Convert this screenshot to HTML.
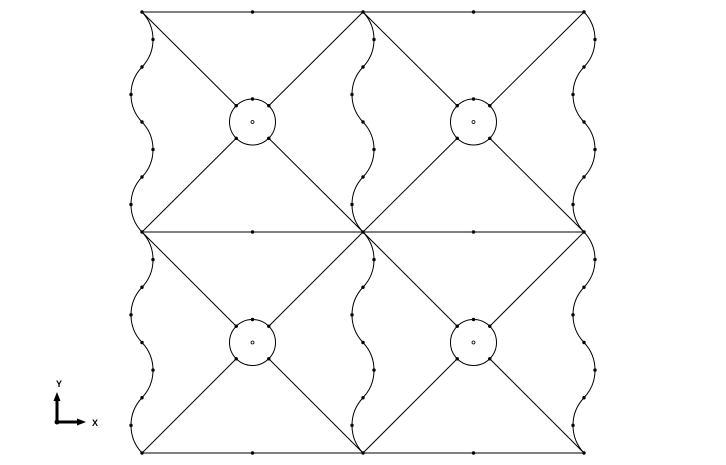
<!DOCTYPE html>
<html><head><meta charset="utf-8"><style>
html,body{margin:0;padding:0;background:#fff;}
svg{display:block;}
</style></head><body>
<svg id="chart" width="726" height="465" viewBox="0 0 726 465" xmlns="http://www.w3.org/2000/svg">
<g id="mesh" stroke="#000" fill="none" stroke-width="1"></g>
<g id="nodes"></g>
<g>
  <line x1="57" y1="422" x2="57" y2="399" stroke="#000" stroke-width="3"/>
  <polygon points="57,392 53.5,401 60.5,401" fill="#000"/>
  <line x1="57" y1="422" x2="80" y2="422" stroke="#000" stroke-width="3"/>
  <polygon points="86,422 77,418.5 77,425.5" fill="#000"/>
  <circle cx="57" cy="422" r="2.5" fill="#000"/>
  <text x="56" y="387" font-family="Liberation Sans, sans-serif" font-size="9" font-weight="bold">Y</text>
  <text x="92" y="426" font-family="Liberation Sans, sans-serif" font-size="9" font-weight="bold">X</text>
</g>
</svg>
<script>
const colEdges = [142, 363, 584];
const rowEdges = [12, 232, 453];
const circleRadius = [23];
const waveAmplitude = [11];
const wavePeriods = [2];

const NS = 'http://www.w3.org/2000/svg';
const mesh = document.getElementById('mesh');
const nodes = document.getElementById('nodes');
function mk(tag, attrs, parent) {
  const e = document.createElementNS(NS, tag);
  for (const k in attrs) e.setAttribute(k, attrs[k]);
  parent.appendChild(e);
  return e;
}
function dot(x, y, hollow) {
  const c = mk('circle', {cx: x, cy: y, r: hollow ? 1.5 : 1.7, fill: hollow ? '#fff' : '#000', stroke: '#000', 'stroke-width': hollow ? 0.8 : 0}, nodes);
  
  
}
const A = waveAmplitude[0], R = circleRadius[0], P = wavePeriods[0];

// horizontal edges
rowEdges.forEach(y => {
  const l = mk('line', {x1: colEdges[0], y1: y, x2: colEdges[colEdges.length-1], y2: y}, mesh);
  
  
  for (let i = 0; i < colEdges.length; i++) {
    dot(colEdges[i], y);
    if (i < colEdges.length - 1) dot((colEdges[i] + colEdges[i+1]) / 2, y);
  }
});

// wavy vertical edges: circular arcs alternating right/left
colEdges.forEach(x => {
  for (let j = 0; j < rowEdges.length - 1; j++) {
    const y0 = rowEdges[j], y1 = rowEdges[j+1], h = y1 - y0;
    const n = 2 * P, seg = h / n;
    const rad = ((seg / 2) * (seg / 2) + A * A) / (2 * A);
    let d = 'M' + x + ',' + y0;
    for (let k = 0; k < n; k++) {
      const ye = y0 + seg * (k + 1);
      const sweep = k % 2 === 0 ? 1 : 0;
      d += ' A' + rad.toFixed(2) + ',' + rad.toFixed(2) + ' 0 0 ' + sweep + ' ' + x + ',' + ye.toFixed(2);
      const ym = y0 + seg * (k + 0.5);
      dot(x + (k % 2 === 0 ? A : -A), ym);
      if (k < n - 1) dot(x, ye);
    }
    const pth = mk('path', {d: d}, mesh);
    
    
  }
});

// cells: circles + diagonals
for (let i = 0; i < colEdges.length - 1; i++) {
  for (let j = 0; j < rowEdges.length - 1; j++) {
    const xa = colEdges[i], xb = colEdges[i+1], ya = rowEdges[j], yb = rowEdges[j+1];
    const cx = (xa + xb) / 2, cy = (ya + yb) / 2;
    const c = mk('circle', {cx: cx, cy: cy, r: R}, mesh);
    
    
    const d = R / Math.SQRT2;
    [[xa, ya, -1, -1], [xb, ya, 1, -1], [xa, yb, -1, 1], [xb, yb, 1, 1]].forEach(([px, py, sx, sy]) => {
      const ex = cx + sx * d, ey = cy + sy * d;
      const l = mk('line', {x1: px, y1: py, x2: ex, y2: ey}, mesh);
      
      
      dot(ex, ey);
    });
    dot(cx, cy - R);
    dot(cx, cy, true);
  }
}
</script>
</body></html>
